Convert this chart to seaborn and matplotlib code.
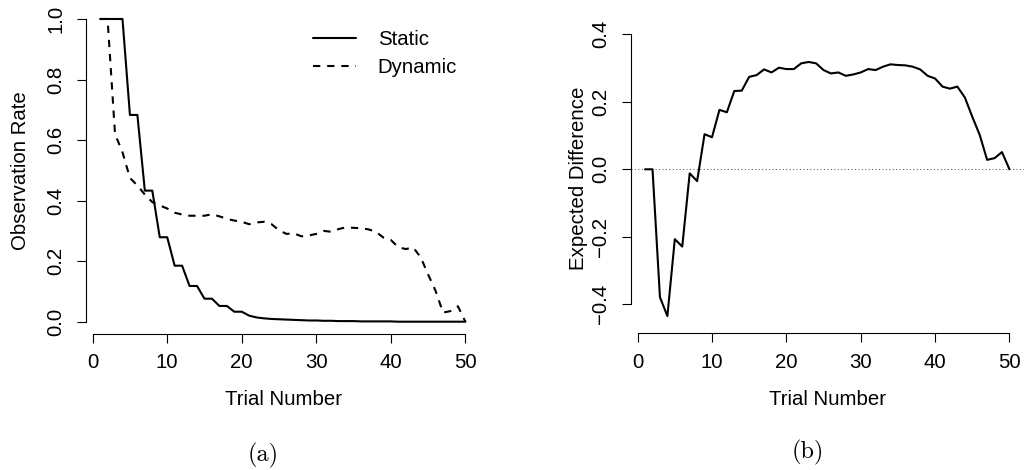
import matplotlib
matplotlib.use("Agg")
import matplotlib.pyplot as plt
import seaborn as sns
import pandas as pd

# ---------------- data ----------------
trials = list(range(1, 51))

static_rate = [1.0, 1.0, 1.0, 1.0, 0.683, 0.683, 0.433, 0.433, 0.279, 0.279,
               0.185, 0.185, 0.118, 0.118, 0.076, 0.076, 0.052, 0.052, 0.033, 0.033,
               0.020, 0.014, 0.011, 0.009, 0.008, 0.007, 0.006, 0.005, 0.004, 0.004,
               0.003, 0.003, 0.002, 0.002, 0.002, 0.001, 0.001, 0.001, 0.001, 0.001,
               0.0, 0.0, 0.0, 0.0, 0.0, 0.0, 0.0, 0.0, 0.0, 0.0]

dynamic_rate = [1.0, 1.0, 0.62, 0.56, 0.475, 0.45, 0.42, 0.395, 0.384, 0.374,
                0.36, 0.354, 0.35, 0.35, 0.35, 0.355, 0.348, 0.34, 0.334, 0.33,
                0.322, 0.328, 0.33, 0.322, 0.302, 0.29, 0.292, 0.282, 0.285, 0.29,
                0.30, 0.297, 0.306, 0.312, 0.31, 0.309, 0.305, 0.297, 0.278, 0.27,
                0.246, 0.24, 0.245, 0.213, 0.156, 0.102, 0.03, 0.035, 0.051, 0.0]

expected_diff = [0.0, 0.0, -0.379, -0.435, -0.207, -0.229, -0.012, -0.035, 0.104, 0.095,
                 0.176, 0.169, 0.232, 0.233, 0.274, 0.279, 0.296, 0.287, 0.301, 0.297,
                 0.297, 0.314, 0.318, 0.314, 0.294, 0.284, 0.287, 0.277, 0.281, 0.287,
                 0.297, 0.294, 0.304, 0.311, 0.309, 0.308, 0.304, 0.296, 0.277, 0.269,
                 0.245, 0.239, 0.245, 0.213, 0.156, 0.102, 0.028, 0.033, 0.051, 0.0]

left_yticks = [0.0, 0.2, 0.4, 0.6, 0.8, 1.0]
right_yticks = [-0.4, -0.2, 0.0, 0.2, 0.4]
xticks = [0, 10, 20, 30, 40, 50]

# ---------------- style ----------------
sns.set_theme(style="ticks")
plt.rcParams["font.family"] = ["Liberation Sans", "DejaVu Sans"]
FS = 14.7
plt.rcParams.update({
    "font.size": FS,
    "axes.linewidth": 0.8,
    "xtick.major.size": 6.5,
    "ytick.major.size": 6.5,
    "xtick.major.width": 0.8,
    "ytick.major.width": 0.8,
    "xtick.color": "black",
    "ytick.color": "black",
    "axes.edgecolor": "black",
    "text.color": "black",
    "axes.labelcolor": "black",
})

W, H = 1024, 470
fig = plt.figure(figsize=(W / 100, H / 100), dpi=100)

def px_axes(x0, x1, ytop, ybot):
    return fig.add_axes([x0 / W, (H - ybot) / H, (x1 - x0) / W, (ybot - ytop) / H])

axL = px_axes(85.5, 480, 7, 333.5)
axR = px_axes(630.5, 1024, 23, 333.3)

df_left = pd.DataFrame({"trial": trials, "Static": static_rate, "Dynamic": dynamic_rate})
df_right = pd.DataFrame({"trial": trials, "diff": expected_diff})

LW = 1.5
sns.lineplot(data=df_left, x="trial", y="Static", ax=axL, color="black", lw=LW,
             label="Static", errorbar=None)
sns.lineplot(data=df_left, x="trial", y="Dynamic", ax=axL, color="black", lw=LW,
             linestyle=(0, (3.5, 3.3)), label="Dynamic", errorbar=None)

axR.axhline(0, color="0.35", lw=0.75, linestyle=(0, (1, 2.3)), zorder=1)
sns.lineplot(data=df_right, x="trial", y="diff", ax=axR, color="black", lw=LW,
             errorbar=None, zorder=3)

for ax in (axL, axR):
    ax.set_xlim(-0.96, 51.96)
    ax.set_xticks(xticks)
    ax.set_xticklabels([str(t) for t in xticks])
    for s in ("top", "right"):
        ax.spines[s].set_visible(False)
    ax.spines["bottom"].set_bounds(0, 50)
    ax.tick_params(axis="x", pad=7.5, labelsize=FS)
    ax.tick_params(axis="y", pad=8, labelsize=FS)
    ax.set_facecolor("white")
    ax.grid(False)

axL.set_ylim(-0.039, 1.0396)
axL.set_yticks(left_yticks)
axL.set_yticklabels([f"{v:.1f}" for v in left_yticks], rotation=90, va="center")
axL.spines["left"].set_bounds(0, 1)

axR.set_ylim(-0.486, 0.4335)
axR.set_yticks(right_yticks)
axR.set_yticklabels([f"{v:.1f}".replace("-", "\u2212") for v in right_yticks],
                    rotation=90, va="center")
axR.spines["left"].set_bounds(-0.4, 0.4)

axL.set_xlabel("Trial Number", fontsize=FS)
axR.set_xlabel("Trial Number", fontsize=FS)
axL.set_ylabel("Observation Rate", fontsize=FS)
axR.set_ylabel("Expected Difference", fontsize=FS)
axL.xaxis.set_label_coords(0.501, -0.173)
axR.xaxis.set_label_coords(0.5, -0.1827)
axL.yaxis.set_label_coords(-0.1417, 0.5)
axR.yaxis.set_label_coords(-0.107, 0.5)

leg = axL.legend(loc="upper left", bbox_to_anchor=(312.7 / W, 1 - 30 / H),
                 bbox_transform=fig.transFigure, frameon=False, fontsize=FS,
                 handlelength=2.1, handletextpad=1.09, labelspacing=0.46,
                 borderpad=0, borderaxespad=0)

fig.text(262.7 / W, 1 - 455 / H, "(a)", fontfamily="cmr10", fontsize=17.5,
         ha="center", va="center")
fig.text(807.8 / W, 1 - 452 / H, "(b)", fontfamily="cmr10", fontsize=17.5,
         ha="center", va="center")

fig.savefig("out.png", dpi=100, facecolor="white")
